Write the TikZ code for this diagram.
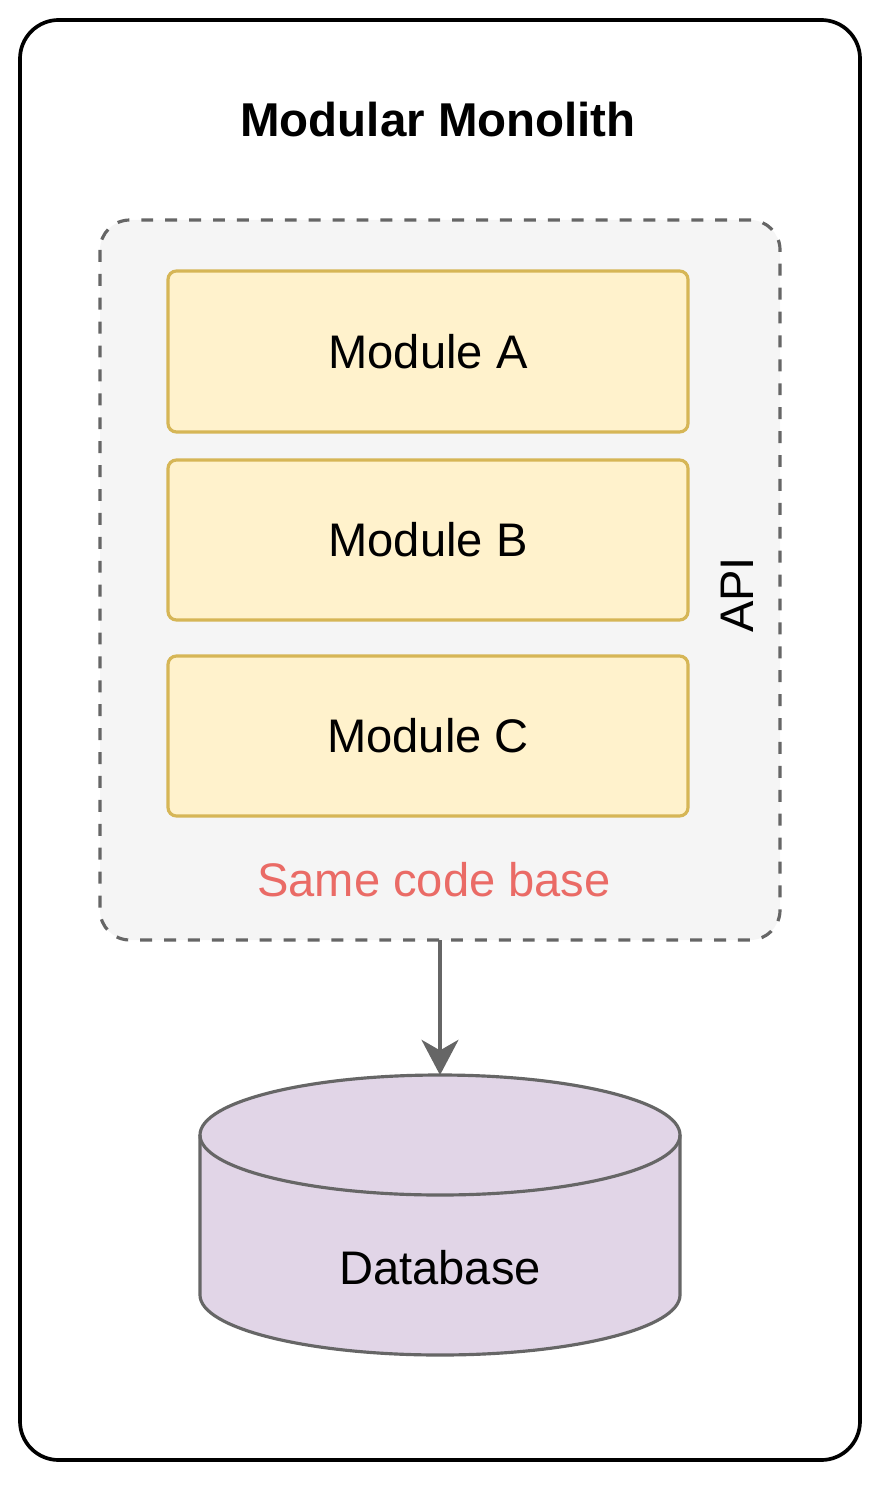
\documentclass[tikz,border=0pt]{standalone}
\usepackage{fontspec}
\setmainfont{Liberation Sans}
\usetikzlibrary{arrows.meta,shapes.geometric}
\definecolor{modfill}{HTML}{FFF2CC}
\definecolor{moddraw}{HTML}{D6B656}
\definecolor{contfill}{HTML}{F5F5F5}
\definecolor{graydraw}{HTML}{666666}
\definecolor{redtext}{HTML}{EA6B66}
\definecolor{dbfill}{HTML}{E1D5E7}
\tikzset{
  modbox/.style={draw=moddraw, fill=modfill, line width=0.9pt, rounded corners=2.4pt},
  lbl/.style={font=\fontsize{13.4pt}{16pt}\selectfont, inner sep=0pt},
}
\begin{document}
\begin{tikzpicture}[x=0.01cm,y=-0.01cm]
\useasboundingbox (0,0) rectangle (884,1486);
% outer frame
\draw[line width=1.05pt, rounded corners=11pt] (20,20) rectangle (860,1460);
\node[lbl, font=\fontsize{13.5pt}{16pt}\selectfont\bfseries] (title) at (438,120) {Modular Monolith};
% container
\draw[draw=graydraw, fill=contfill, line width=0.9pt, dash pattern=on 3.4pt off 3.4pt, rounded corners=8.5pt] (100,220) rectangle (780,940);
\coordinate (contbot) at (440,940);
% modules
\draw[modbox] (168,271) rectangle (688,432);
\node[lbl] (ma) at (428,352) {Module A};
\draw[modbox] (168,460) rectangle (688,620);
\node[lbl] (mb) at (428,540) {Module B};
\draw[modbox] (168,656) rectangle (688,816);
\node[lbl] (mc) at (428,736) {Module C};
\node[lbl, rotate=90] (api) at (737,595) {API};
\node[lbl, text=redtext] (same) at (434,880) {Same code base};
% database
\draw[draw=graydraw, fill=dbfill, line width=0.9pt]
  (200,1135) -- (200,1295) arc[start angle=180, end angle=0, x radius=240, y radius=60]
  -- (680,1135) arc[start angle=360, end angle=180, x radius=240, y radius=60] -- cycle;
\draw[draw=graydraw, line width=0.9pt] (200,1135) arc[start angle=180, end angle=0, x radius=240, y radius=60];
\coordinate (dbtop) at (440,1075);
\node[lbl] (db) at (440,1268) {Database};
% arrow
\draw[draw=graydraw, line width=1pt, -{Stealth[length=10pt,width=10.5pt,inset=3pt]}] (contbot) -- (dbtop);
\end{tikzpicture}
\end{document}
